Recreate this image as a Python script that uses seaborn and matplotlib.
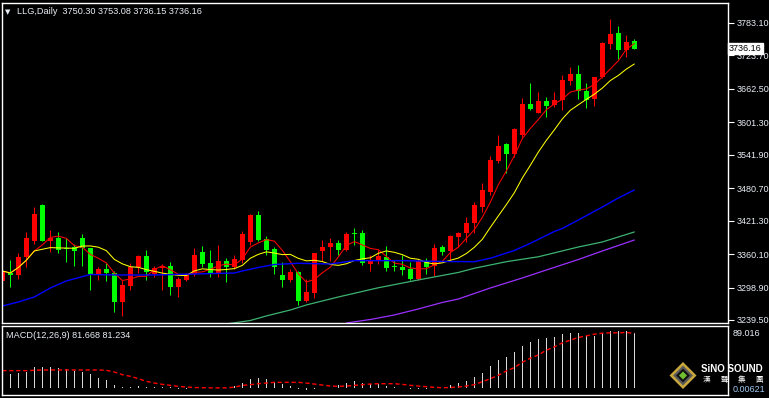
import matplotlib
matplotlib.use("Agg")
import matplotlib.pyplot as plt
from matplotlib.patches import Polygon
import numpy as np
import pandas as pd
import seaborn as sns

# Daily candles (oldest first)
opens = [3310.9, 3326.1, 3321.9, 3355.4, 3384.7, 3450.0, 3384.7, 3390.2, 3370.8, 3373.7,
         3390.2, 3370.8, 3323.7, 3332.9, 3325.0, 3273.0, 3302.3, 3336.0, 3357.2, 3323.2,
         3335.3, 3338.9, 3300.5, 3312.8, 3323.7, 3364.5, 3344.0, 3323.7, 3347.5, 3337.1,
         3349.3, 3382.9, 3431.7, 3387.2, 3369.5, 3321.9, 3312.8, 3328.0, 3274.3, 3289.5,
         3365.8, 3372.6, 3379.9, 3367.6, 3399.3, 3398.2, 3342.0, 3349.3, 3355.4, 3338.4,
         3337.1, 3332.9, 3314.6, 3348.1, 3338.9, 3373.7, 3364.9, 3392.0, 3398.2, 3416.5,
         3446.9, 3474.4, 3531.1, 3561.6, 3543.3, 3578.1, 3634.8, 3619.0, 3640.4, 3632.2,
         3642.2, 3677.5, 3689.8, 3658.7, 3643.5, 3683.7, 3744.1, 3764.2, 3733.7, 3750.30]
highs = [3332.9, 3349.3, 3361.6, 3401.2, 3445.8, 3451.8, 3404.8, 3400.6, 3389.1, 3378.1,
         3396.9, 3372.0, 3337.1, 3343.3, 3329.2, 3312.8, 3343.4, 3358.5, 3367.6, 3338.9,
         3342.6, 3346.2, 3318.8, 3325.0, 3370.8, 3374.9, 3367.6, 3376.8, 3353.8, 3358.5,
         3402.4, 3433.5, 3439.6, 3393.3, 3373.7, 3346.2, 3332.9, 3329.8, 3314.6, 3363.0,
         3386.0, 3390.2, 3386.0, 3400.0, 3407.3, 3404.2, 3358.5, 3367.6, 3374.9, 3349.3,
         3358.5, 3346.2, 3351.2, 3352.5, 3378.1, 3376.8, 3395.0, 3400.0, 3428.6, 3456.0,
         3490.8, 3539.8, 3578.1, 3562.9, 3591.0, 3645.3, 3672.7, 3656.3, 3648.2, 3656.3,
         3688.0, 3702.0, 3706.2, 3672.7, 3685.0, 3748.9, 3790.4, 3778.1, 3761.1, 3753.08]
lows = [3292.6, 3300.5, 3314.6, 3337.1, 3378.6, 3384.1, 3364.5, 3361.6, 3346.2, 3338.9,
        3338.9, 3294.4, 3312.8, 3310.9, 3254.7, 3247.3, 3294.4, 3326.1, 3312.8, 3318.6,
        3294.4, 3285.3, 3282.2, 3310.9, 3320.7, 3337.1, 3318.8, 3318.8, 3309.6, 3332.9,
        3343.3, 3376.8, 3384.0, 3358.5, 3323.7, 3300.5, 3308.5, 3267.0, 3273.0, 3280.4,
        3347.5, 3347.5, 3358.5, 3365.8, 3376.8, 3340.2, 3329.2, 3342.0, 3329.2, 3329.2,
        3321.9, 3312.8, 3312.8, 3323.7, 3319.8, 3358.5, 3349.3, 3373.7, 3382.9, 3399.3,
        3437.8, 3468.3, 3526.3, 3509.2, 3538.5, 3573.9, 3623.8, 3617.8, 3611.6, 3628.9,
        3623.8, 3669.6, 3643.5, 3627.0, 3631.9, 3681.9, 3734.9, 3716.7, 3721.4, 3736.15]
closes = [3329.2, 3321.9, 3355.4, 3389.1, 3433.5, 3384.7, 3390.2, 3367.6, 3368.9, 3366.4,
          3370.8, 3323.7, 3332.9, 3326.1, 3273.0, 3303.6, 3337.1, 3356.7, 3326.8, 3335.3,
          3338.4, 3300.5, 3314.6, 3321.9, 3358.5, 3342.0, 3323.7, 3347.5, 3337.1, 3351.2,
          3396.9, 3431.7, 3386.0, 3367.6, 3337.1, 3312.8, 3328.0, 3274.9, 3291.3, 3361.6,
          3373.7, 3379.9, 3367.6, 3396.9, 3396.9, 3343.3, 3347.5, 3356.7, 3335.3, 3336.0,
          3331.1, 3314.6, 3348.1, 3337.1, 3370.8, 3364.5, 3393.3, 3398.2, 3417.6, 3450.0,
          3477.5, 3532.4, 3558.0, 3543.3, 3589.1, 3634.8, 3625.1, 3640.4, 3631.8, 3642.2,
          3678.8, 3689.8, 3658.7, 3642.2, 3683.7, 3747.0, 3762.9, 3733.7, 3747.8, 3736.16]

# long moving averages, sampled off the chart (candle index, price)
blue_idx = [0, 2, 4, 6, 8, 11, 14, 19, 24, 29, 30, 32, 34, 37, 41, 44, 50, 55, 59, 61,
            64, 66, 69, 70, 72, 75, 77, 79]
blue_val = [3265.1, 3272.5, 3281.6, 3298.1, 3310.9, 3322.8, 3321.9, 3321.9, 3323.7, 3325.5,
            3329.2, 3335.6, 3341.1, 3343.3, 3342.0, 3348.1, 3348.1, 3346.6, 3346.2, 3352.5,
            3366.7, 3379.9, 3401.5, 3407.0, 3422.5, 3446.3, 3462.8, 3477.5]
green_idx = [28, 31, 33, 36, 38, 42, 47, 52, 57, 59, 63, 67, 72, 75, 79]
green_val = [3232.2, 3238.6, 3246.9, 3257.8, 3267.0, 3281.6, 3298.5, 3312.8, 3326.5, 3334.2,
             3346.2, 3355.2, 3373.1, 3382.3, 3400.6]
purple_idx = [43, 46, 49, 52, 55, 57, 61, 65, 68, 72, 75, 79]
purple_val = [3234.0, 3240.4, 3248.7, 3259.7, 3271.6, 3277.9, 3298.1, 3316.4, 3331.0, 3350.2,
              3365.8, 3385.9]

# MACD(12,26,9) main histogram and signal line
macd = [23.4, 20.0, 22.0, 23.4, 31.0, 31.0, 31.0, 29.4, 27.4, 25.0,
        23.4, 20.0, 14.5, 11.0, 4.5, 1.0, 1.0, 2.5, 1.0, 1.0,
        1.0, 0.5, -1.5, -1.5, 0.3, -0.2, -0.5, -0.4, 0.3, 2.5,
        7.0, 12.5, 14.5, 12.5, 8.5, 5.5, 2.5, -1.5, -4.0, -1.5,
        0.3, -1.0, 3.5, 7.0, 9.5, 7.0, 5.0, 5.0, 2.5, 1.0,
        0.2, -2.5, -2.5, -2.5, -0.3, 0.3, 3.5, 7.0, 9.5, 16.0,
        22.0, 32.4, 41.4, 45.8, 53.3, 62.3, 68.3, 72.8, 74.3, 75.8,
        80.2, 81.7, 81.7, 77.2, 77.2, 81.7, 84.7, 84.7, 84.7, 81.668]
signal = [25.5, 25.5, 25.5, 25.5, 26.0, 26.5, 26.5, 26.5, 26.5, 26.5,
          26.5, 26.5, 26.5, 26.0, 23.5, 19.5, 17.0, 13.5, 9.5, 7.0,
          5.0, 3.5, 2.0, 1.0, 0.3, 0.0, -0.2, -0.3, -0.2, 0.8,
          3.5, 4.5, 6.0, 7.0, 8.0, 8.0, 8.0, 8.0, 7.0, 5.5,
          4.0, 2.5, 2.0, 2.5, 3.5, 4.5, 5.5, 6.0, 6.0, 6.0,
          5.0, 3.5, 2.5, 1.5, 0.5, 0.0, 0.3, 1.0, 2.5, 4.5,
          9.0, 13.5, 18.5, 25.0, 30.0, 38.0, 44.0, 49.0, 56.0, 61.0,
          67.0, 71.0, 75.0, 77.5, 80.0, 81.5, 82.0, 82.0, 82.5, 81.234]

price_ticks = [3239.50, 3298.90, 3360.10, 3421.30, 3480.70, 3541.90, 3601.30, 3662.50,
               3723.70, 3783.10]

sns.set_theme(style="dark", rc={"axes.facecolor": "black", "figure.facecolor": "black",
                                "axes.edgecolor": "white", "axes.grid": False})
plt.rcParams['font.family'] = ['Liberation Sans', 'DejaVu Sans']

W, H = 769, 398
fig = plt.figure(figsize=(W / 100, H / 100), dpi=100)
ax = fig.add_axes([2 / W, 75 / H, 726 / W, 320 / H])
axm = fig.add_axes([2 / W, 3 / H, 726 / W, 69 / H])

df = pd.DataFrame({"o": opens, "h": highs, "l": lows, "c": closes})
idx = np.arange(len(df))
cols = np.where(df.c >= df.o, "#ff0000", "#00ff00")

# candles
ax.vlines(idx, df.l, df.h, colors=cols, linewidth=0.75)
ax.bar(idx, (df.c - df.o).abs().clip(lower=0.8), bottom=df[["o", "c"]].min(axis=1),
       width=0.62, color=cols, linewidth=0)

# moving averages
df["ma5"] = df.c.rolling(5, min_periods=1).mean()
df["ma10"] = df.c.rolling(10, min_periods=1).mean()
sns.lineplot(x=idx, y=df.ma5, ax=ax, color="#ff0000", linewidth=0.75)
sns.lineplot(x=idx, y=df.ma10, ax=ax, color="#ffff00", linewidth=0.75)
sns.lineplot(x=blue_idx, y=blue_val, ax=ax, color="#0000ff", linewidth=1.0)
sns.lineplot(x=green_idx, y=green_val, ax=ax, color="#3cb371", linewidth=0.9)
sns.lineplot(x=purple_idx, y=purple_val, ax=ax, color="#9b30ff", linewidth=0.9)

ax.set_xlim(-0.04, 90.71)
ax.set_ylim(3234.0, 3819.7)
ax.set_xticks([])
ax.set_xlabel("")
ax.set_ylabel("")
ax.yaxis.tick_right()
ax.set_yticks(price_ticks)
ax.set_yticklabels([f"{v:.2f}" for v in price_ticks])
ax.tick_params(axis="y", colors="white", labelcolor="#e8eef5", labelsize=6.5,
               length=4, width=0.8, direction="out", pad=2)
ax.text(1.0015, 3736.16, "3736.16", transform=ax.get_yaxis_transform(), fontsize=6.5,
        color="black", va="center", ha="left", zorder=10, clip_on=False,
        bbox=dict(boxstyle="square,pad=0.15", fc="white", ec="white"))

# MACD panel
sns.barplot(x=idx, y=macd, ax=axm, native_scale=True, width=0.14, color="#d8d8d8",
            saturation=1, linewidth=0, errorbar=None)
sns.lineplot(x=idx, y=signal, ax=axm, color="#ff0000", linewidth=1.0,
             linestyle=(0, (3, 2)))
axm.set_xlim(-0.04, 90.71)
axm.set_ylim(-10.9, 92.2)
axm.set_xticks([])
axm.set_yticks([])
axm.set_xlabel("")
axm.set_ylabel("")

for a in (ax, axm):
    for s in a.spines.values():
        s.set_color("white")
        s.set_linewidth(1)

txt = "#e8eef5"
fig.text(5 / W, 1 - 12 / H, "\u25bc", fontsize=5, color=txt, va="center",
         family="DejaVu Sans")
fig.text(17 / W, 1 - 12 / H, "LLG,Daily  3750.30 3753.08 3736.15 3736.16",
         fontsize=6.6, color=txt, va="center")
fig.text(6 / W, 1 - 335 / H, "MACD(12,26,9) 81.668 81.234", fontsize=6.6,
         color=txt, va="center")
fig.text(733 / W, 1 - 333 / H, "89.016", fontsize=6.5, color=txt, va="center")
fig.text(733 / W, 1 - 389 / H, "0.00621", fontsize=6.5, color="#9ec8f0", va="center")

# SINO SOUND logo
def px(x, y):
    return (x / W, 1 - y / H)

cx, cy = 683, 375.5
for r, c in [(13.5, "#c8a83c"), (10, "#5a5a5a"), (7, "#111111"), (4, "#6fbf2f")]:
    fig.patches.append(Polygon([px(cx - r, cy), px(cx, cy - r), px(cx + r, cy), px(cx, cy + r)],
                               closed=True, transform=fig.transFigure, fc=c, ec="none"))
fig.text(701 / W, 1 - 369 / H, "SiNO SOUND", fontsize=7, fontweight="bold",
         color="white", va="center")
for k, ch in enumerate("漢聲集團"):
    fig.text((703 + k * 17.5) / W, 1 - 380 / H, ch, fontsize=5.5, color="white",
             va="center", family=["Noto Sans CJK TC", "DejaVu Sans"])

fig.savefig("out.png", dpi=100, facecolor="black")
